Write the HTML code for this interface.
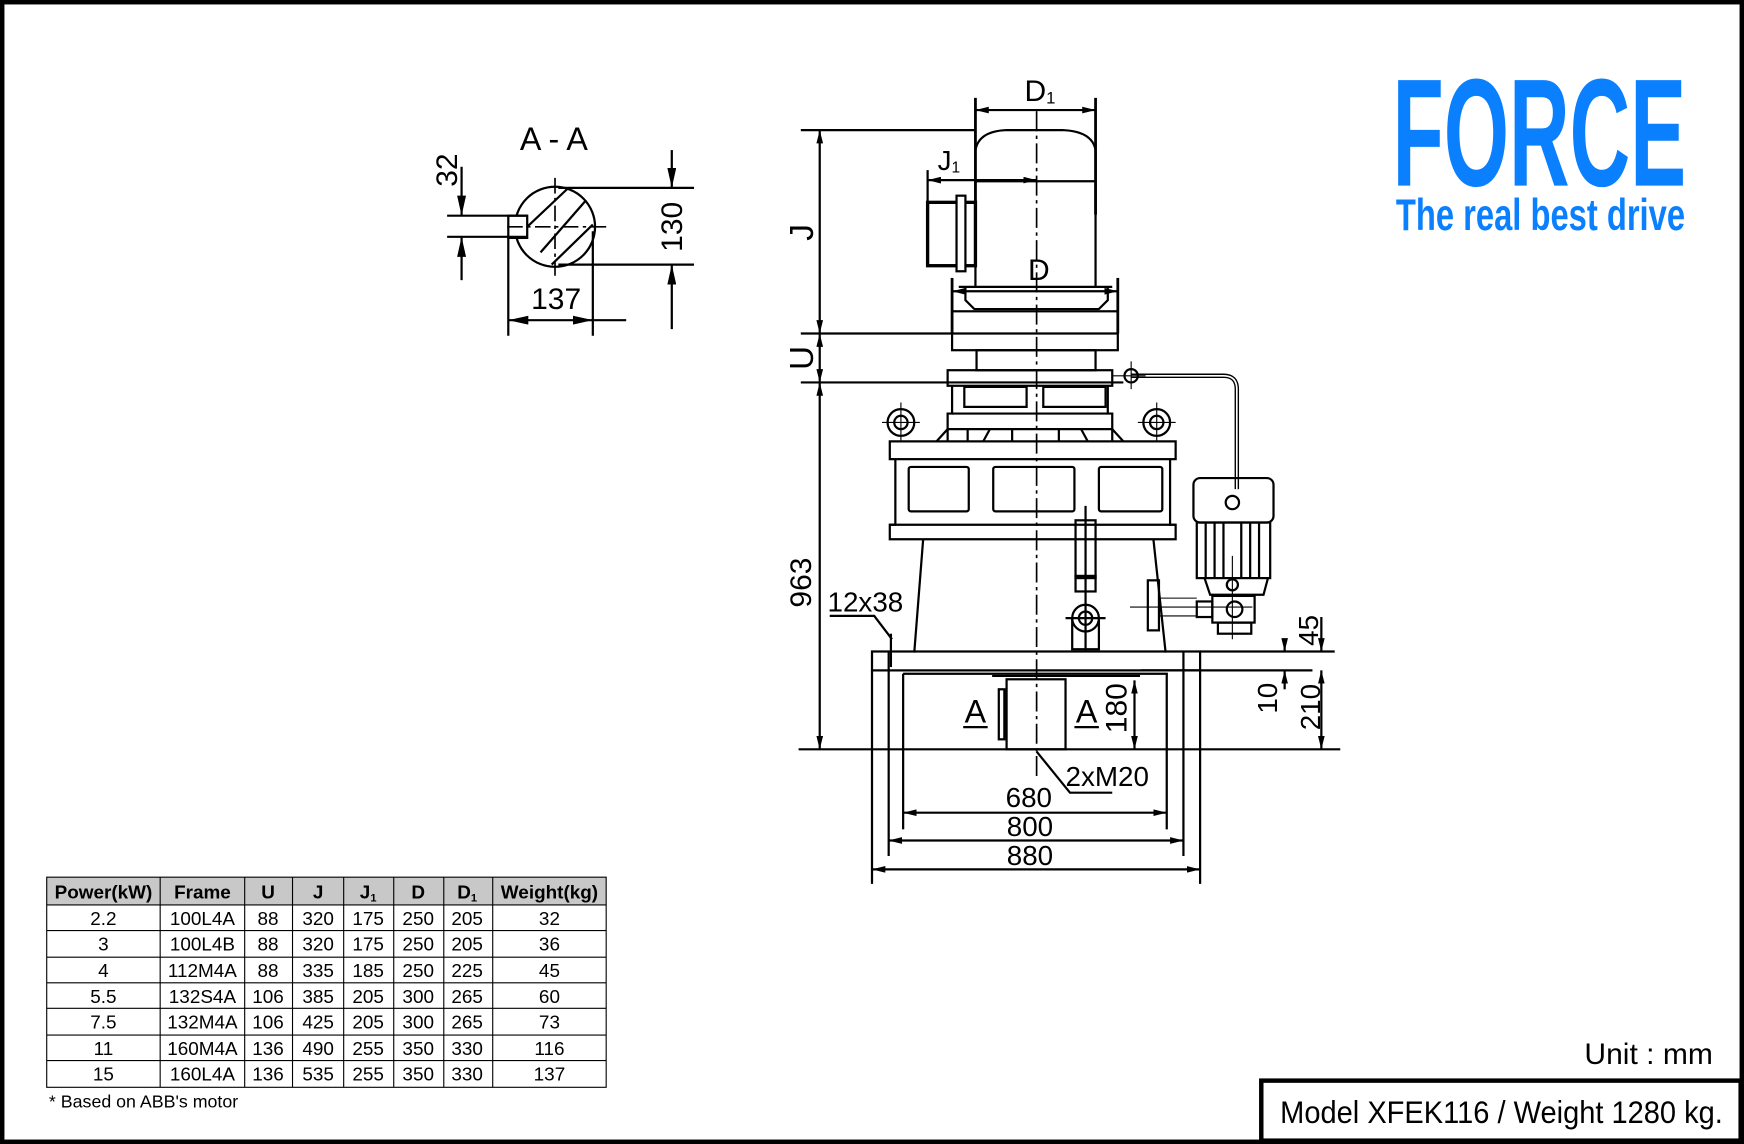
<!DOCTYPE html>
<html><head><meta charset="utf-8"><style>
html,body{margin:0;padding:0;background:#fff}
svg{display:block}
text{font-family:"Liberation Sans",Arial,sans-serif;fill:#000}
</style></head><body>
<svg width="1744" height="1144" viewBox="0 0 1568 1029" preserveAspectRatio="none" xmlns="http://www.w3.org/2000/svg">
<defs>
<marker id="a" viewBox="0 0 12 6" refX="12" refY="3" markerWidth="12" markerHeight="6" orient="auto-start-reverse" markerUnits="userSpaceOnUse"><path d="M0,0L12,3L0,6z" fill="#000"/></marker>
<marker id="b" viewBox="0 0 18 8" refX="18" refY="4" markerWidth="18" markerHeight="8" orient="auto-start-reverse" markerUnits="userSpaceOnUse"><path d="M0,0L18,4L0,8z" fill="#000"/></marker>
</defs>
<rect x="2" y="2" width="1564" height="1025" fill="#fff" stroke="#000" stroke-width="4"/>

<!-- Logo -->
<text x="1252" y="167" font-weight="bold" font-size="138" textLength="264" lengthAdjust="spacingAndGlyphs" style="fill:#0a80ff">FORCE</text>
<text x="1255" y="207" font-weight="bold" font-size="40" textLength="260" lengthAdjust="spacingAndGlyphs" style="fill:#0a80ff">The real best drive</text>

<!-- Section A-A -->
<g stroke="#000" stroke-width="2" fill="none">
<text x="498" y="135" font-size="29" text-anchor="middle" stroke="none">A - A</text>
<circle cx="499" cy="204" r="36"/>
<rect x="457" y="194" width="17" height="20" fill="#fff"/>
<line x1="456" y1="204" x2="548" y2="204" stroke-dasharray="14,4,3,4" stroke-width="1.5"/>
<line x1="499" y1="160" x2="499" y2="248" stroke-dasharray="14,4,3,4" stroke-width="1.5"/>
<line x1="510" y1="170" x2="474" y2="204"/><line x1="527" y1="180" x2="486" y2="227"/><line x1="533" y1="202" x2="496" y2="238"/>
<line x1="402" y1="194" x2="474" y2="194"/><line x1="402" y1="213" x2="474" y2="213"/>
<line x1="415" y1="150" x2="415" y2="194" marker-end="url(#b)"/><line x1="415" y1="252" x2="415" y2="213" marker-end="url(#b)"/>
<line x1="502" y1="169" x2="624" y2="169"/><line x1="502" y1="238" x2="624" y2="238"/>
<line x1="604" y1="135" x2="604" y2="169" marker-end="url(#b)"/><line x1="604" y1="296" x2="604" y2="238" marker-end="url(#b)"/>
<line x1="457" y1="214" x2="457" y2="302"/><line x1="533" y1="208" x2="533" y2="302"/>
<line x1="457" y1="288" x2="533" y2="288" marker-start="url(#b)" marker-end="url(#b)"/><line x1="533" y1="288" x2="563" y2="288"/>
</g>
<text x="411" y="168" font-size="27" transform="rotate(-90 411 168)" text-anchor="start">32</text>
<text x="597" y="220" font-size="27" transform="rotate(-90 597 204)" text-anchor="middle">130</text>
<text x="500" y="278" font-size="27" text-anchor="middle">137</text>

<!-- Main drawing -->
<g stroke="#000" stroke-width="2" fill="none">
<line x1="932" y1="100" x2="932" y2="700" stroke-dasharray="18,4,3,4" stroke-width="1.5"/>
<path d="M877,193 V135 Q880,118 905,117 H955 Q982,118 985,135 V193" />
<line x1="877" y1="163" x2="985" y2="163"/>
<path d="M877,163 V258 M985,163 V258"/>
<rect x="834" y="182" width="43" height="57" stroke-width="3"/>
<rect x="860" y="176" width="8" height="68" fill="#fff"/>
<path d="M862,258 H1000 M868,258 V270 L876,278 H988 L996,270 V258"/>
<rect x="856" y="280" width="149" height="35"/>
<rect x="878" y="315" width="107" height="18"/>
<line x1="877" y1="88" x2="877" y2="193" stroke-width="2.5"/><line x1="985" y1="88" x2="985" y2="193" stroke-width="2.5"/>
<line x1="877" y1="99" x2="985" y2="99" marker-start="url(#a)" marker-end="url(#a)"/>
<line x1="834" y1="153" x2="834" y2="182"/>
<line x1="834" y1="162" x2="932" y2="162" marker-start="url(#a)" marker-end="url(#a)"/>
<line x1="856" y1="250" x2="856" y2="300" stroke-width="2.5"/><line x1="1005" y1="250" x2="1005" y2="300" stroke-width="2.5"/>
<line x1="856" y1="262" x2="1005" y2="262" marker-start="url(#a)" marker-end="url(#a)"/>
<line x1="720" y1="117" x2="877" y2="117"/>
<line x1="720" y1="300" x2="1005" y2="300"/>
<line x1="720" y1="344" x2="1010" y2="344"/>
<line x1="718" y1="674" x2="1205" y2="674"/>
<line x1="737" y1="117" x2="737" y2="300" marker-start="url(#a)" marker-end="url(#a)"/>
<line x1="737" y1="300" x2="737" y2="344" marker-start="url(#a)" marker-end="url(#a)"/>
<line x1="737" y1="344" x2="737" y2="674" marker-start="url(#a)" marker-end="url(#a)"/>
<rect x="852" y="333" width="148" height="14"/>
<path d="M856,347 V372 H852 V397 M996,347 V372 H1000 V397"/>
<rect x="867" y="348" width="56" height="18"/><rect x="938" y="348" width="56" height="18"/>
<line x1="856" y1="372" x2="996" y2="372"/>
<path d="M852,386 L842,397 M1000,386 L1010,397 M870,386 V397 M890,386 L884,397 M910,386 V397 M952,386 V397 M972,386 L978,397"/>
<line x1="852" y1="386" x2="1000" y2="386"/>
<circle cx="810" cy="380" r="12"/><circle cx="810" cy="380" r="6"/>
<circle cx="1040" cy="380" r="12"/><circle cx="1040" cy="380" r="6"/>
<path d="M793,380 H827 M810,362 V398 M1023,380 H1057 M1040,362 V398" stroke-width="1"/>
<rect x="800" y="397" width="257" height="16"/>
<path d="M805,413 V472 H800 V485 H1057 V472 H1052 V413"/>
<line x1="800" y1="472" x2="1057" y2="472"/>
<rect x="817" y="420" width="54" height="40" rx="2"/>
<rect x="893" y="420" width="73" height="40" rx="2"/>
<rect x="988" y="420" width="57" height="40" rx="2"/>
<path d="M830,485 L822,587 M1037,485 L1048,587"/>
<rect x="967" y="468" width="18" height="52"/>
<rect x="967" y="518" width="18" height="14"/>
<path d="M976,455 V585"/>
<circle cx="976" cy="556" r="12"/><circle cx="976" cy="556" r="6"/>
<path d="M964,556 V584 H988 V556 M958,556 H994" />
<path d="M1017,338 H1100 Q1112,338 1112,350 V440" stroke-width="4"/>
<path d="M1017,338 H1100 Q1112,338 1112,350 V440" stroke="#fff" stroke-width="1.5"/>
<circle cx="1017" cy="338" r="6"/><path d="M1000,338 H1030 M1017,325 V350" stroke-width="1"/>
<rect x="1073" y="430" width="72" height="40" rx="6"/>
<rect x="1076" y="470" width="66" height="50"/>
<path d="M1084,470 V520 M1092,470 V520 M1100,470 V520 M1116,470 V520 M1124,470 V520 M1132,470 V520"/>
<path d="M1083,520 L1088,535 H1136 L1140,520"/>
<circle cx="1108" cy="452" r="6"/><circle cx="1108" cy="526" r="5"/>
<rect x="1090" y="536" width="38" height="24"/><rect x="1095" y="560" width="30" height="10"/>
<circle cx="1110" cy="548" r="7"/>
<rect x="1076" y="541" width="14" height="14"/>
<rect x="1032" y="522" width="10" height="45"/>
<path d="M1042,538 H1076 M1042,554 H1076 M1016,546 H1126 M1108,500 V575" stroke-width="1"/>
<rect x="784" y="586" width="295" height="17"/>
<line x1="812" y1="606" x2="1050" y2="606"/>
<path d="M784,603 V795 M1079,603 V795 M799,586 V770 M1064,586 V770 M812,606 V746 M1049,606 V746"/>
<rect x="905" y="611" width="53" height="63"/>
<rect x="898" y="620" width="5" height="45"/>
<line x1="892" y1="608" x2="1025" y2="608"/>
<line x1="1026" y1="603" x2="1180" y2="603"/>
<line x1="1079" y1="586" x2="1200" y2="586"/>
<path d="M746,554 H786 L802,575"/><line x1="801" y1="570" x2="801" y2="600"/>
<path d="M932,676 L962,713 H1000"/>
<line x1="812" y1="731" x2="1049" y2="731" marker-start="url(#a)" marker-end="url(#a)"/>
<line x1="799" y1="756" x2="1064" y2="756" marker-start="url(#a)" marker-end="url(#a)"/>
<line x1="784" y1="782" x2="1079" y2="782" marker-start="url(#a)" marker-end="url(#a)"/>
<line x1="1020" y1="612" x2="1020" y2="674" marker-start="url(#a)" marker-end="url(#a)"/>
<line x1="1188" y1="555" x2="1188" y2="586" marker-end="url(#a)"/>
<line x1="1188" y1="603" x2="1188" y2="674" marker-start="url(#a)" marker-end="url(#a)"/>
<line x1="1155" y1="578" x2="1155" y2="586" marker-end="url(#a)"/>
<line x1="1155" y1="620" x2="1155" y2="603" marker-end="url(#a)"/>
</g>
<text x="935" y="91" font-size="27" text-anchor="middle">D<tspan font-size="15" dy="2">1</tspan></text>
<text x="843" y="153" font-size="25">J<tspan font-size="14" dy="2">1</tspan></text>
<text x="934" y="252" font-size="27" text-anchor="middle">D</text>
<text x="731" y="209" font-size="30" transform="rotate(-90 731 209)" text-anchor="middle">J</text>
<text x="731" y="322" font-size="30" transform="rotate(-90 731 322)" text-anchor="middle">U</text>
<text x="729" y="524" font-size="27" transform="rotate(-90 729 524)" text-anchor="middle">963</text>
<text x="744" y="550" font-size="25">12x38</text>
<text x="877" y="650" font-size="29" text-anchor="middle">A</text>
<text x="977" y="650" font-size="29" text-anchor="middle">A</text>
<line x1="866" y1="654" x2="888" y2="654" stroke="#000" stroke-width="2"/>
<line x1="966" y1="654" x2="988" y2="654" stroke="#000" stroke-width="2"/>
<text x="1013" y="637" font-size="27" transform="rotate(-90 1013 637)" text-anchor="middle">180</text>
<text x="958" y="707" font-size="25">2xM20</text>
<text x="925" y="726" font-size="25" text-anchor="middle">680</text>
<text x="926" y="752" font-size="25" text-anchor="middle">800</text>
<text x="926" y="778" font-size="25" text-anchor="middle">880</text>
<text x="1185" y="567" font-size="25" transform="rotate(-90 1185 567)" text-anchor="middle">45</text>
<text x="1148" y="628" font-size="25" transform="rotate(-90 1148 628)" text-anchor="middle">10</text>
<text x="1187" y="636" font-size="25" transform="rotate(-90 1187 636)" text-anchor="middle">210</text>

<!-- Table -->
<g font-size="17">
<rect x="42" y="789" width="503" height="25" fill="#c8c8c8"/>
<g stroke="#000" stroke-width="1" fill="none">
<rect x="42" y="789" width="503" height="189"/>
<path d="M42,814H545M42,837H545M42,861H545M42,884H545M42,907H545M42,931H545M42,954H545"/>
<path d="M144,789V978M220,789V978M263,789V978M309,789V978M354,789V978M399,789V978M443,789V978"/>
</g>
<g font-weight="bold" text-anchor="middle">
<text x="93" y="808">Power(kW)</text><text x="182" y="808">Frame</text><text x="241" y="808">U</text><text x="286" y="808">J</text><text x="331" y="808">J<tspan font-size="10" dy="3">1</tspan></text><text x="376" y="808">D</text><text x="420" y="808">D<tspan font-size="10" dy="3">1</tspan></text><text x="494" y="808">Weight(kg)</text>
</g>
<g text-anchor="middle">
<text x="93" y="832">2.2</text><text x="182" y="832">100L4A</text><text x="241" y="832">88</text><text x="286" y="832">320</text><text x="331" y="832">175</text><text x="376" y="832">250</text><text x="420" y="832">205</text><text x="494" y="832">32</text>
<text x="93" y="855">3</text><text x="182" y="855">100L4B</text><text x="241" y="855">88</text><text x="286" y="855">320</text><text x="331" y="855">175</text><text x="376" y="855">250</text><text x="420" y="855">205</text><text x="494" y="855">36</text>
<text x="93" y="879">4</text><text x="182" y="879">112M4A</text><text x="241" y="879">88</text><text x="286" y="879">335</text><text x="331" y="879">185</text><text x="376" y="879">250</text><text x="420" y="879">225</text><text x="494" y="879">45</text>
<text x="93" y="902">5.5</text><text x="182" y="902">132S4A</text><text x="241" y="902">106</text><text x="286" y="902">385</text><text x="331" y="902">205</text><text x="376" y="902">300</text><text x="420" y="902">265</text><text x="494" y="902">60</text>
<text x="93" y="925">7.5</text><text x="182" y="925">132M4A</text><text x="241" y="925">106</text><text x="286" y="925">425</text><text x="331" y="925">205</text><text x="376" y="925">300</text><text x="420" y="925">265</text><text x="494" y="925">73</text>
<text x="93" y="949">11</text><text x="182" y="949">160M4A</text><text x="241" y="949">136</text><text x="286" y="949">490</text><text x="331" y="949">255</text><text x="376" y="949">350</text><text x="420" y="949">330</text><text x="494" y="949">116</text>
<text x="93" y="972">15</text><text x="182" y="972">160L4A</text><text x="241" y="972">136</text><text x="286" y="972">535</text><text x="331" y="972">255</text><text x="376" y="972">350</text><text x="420" y="972">330</text><text x="494" y="972">137</text>
</g>
<text x="44" y="996" font-size="16">* Based on ABB's motor</text>
</g>

<text x="1540" y="957" font-size="27" text-anchor="end">Unit : mm</text>
<rect x="1134" y="972" width="431" height="54" fill="#fff" stroke="#000" stroke-width="4"/>
<text x="1350" y="1010" font-size="28" text-anchor="middle" textLength="398" lengthAdjust="spacingAndGlyphs">Model XFEK116 / Weight 1280 kg.</text>
</svg>
</body></html>
